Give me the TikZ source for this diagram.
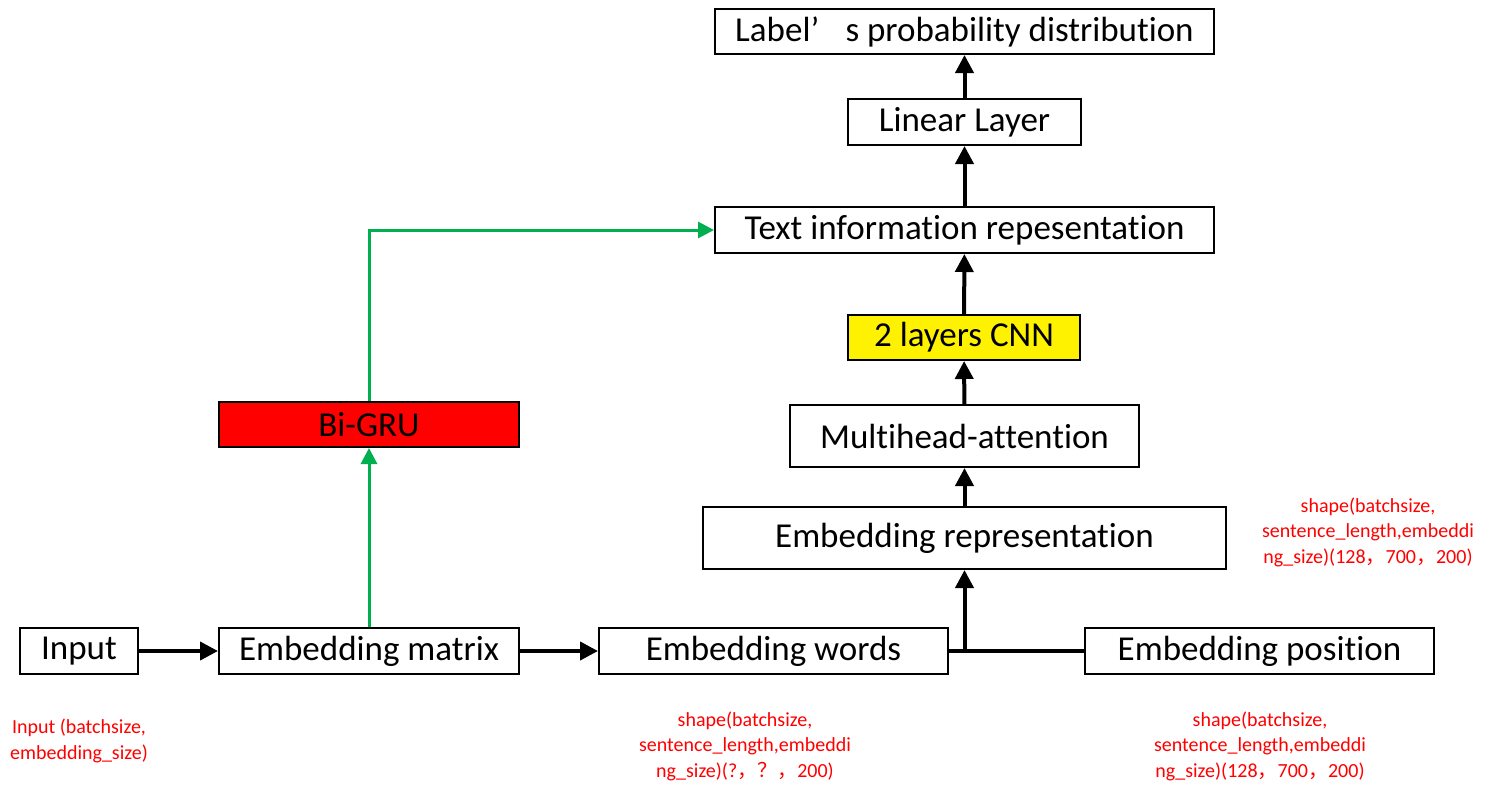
\documentclass[tikz,border=0pt]{standalone}
\usepackage{fontspec}
\setmainfont{Carlito}[Ligatures=NoCommon]
\newfontfamily\cjk{Noto Sans CJK SC}
\usetikzlibrary{arrows.meta}
\begin{document}
\begin{tikzpicture}[x=0.5pt,y=-0.5pt,
	box/.style={draw,line width=1pt,inner sep=0pt,font=\fontsize{17.5}{20}\selectfont},
	note/.style={text=red,align=center,inner sep=0pt,font=\fontsize{10}{12.8}\selectfont},
	flow/.style={line width=2pt,-{Triangle[length=9pt,width=9pt]}},
	gflow/.style={line width=1.5pt,-{Triangle[length=8pt,width=8pt]},draw={rgb,255:red,0;green,176;blue,80},color={rgb,255:red,0;green,176;blue,80}}]
	\useasboundingbox (0,0) rectangle (1488,794);
	% boxes
	\node[box,minimum width=249.5pt,minimum height=22.5pt] (prob) at (964.5,31.5) {Label’\hspace{0.75em}s probability distribution};
	\node[box,minimum width=116.5pt,minimum height=23pt] (linear) at (964.5,122) {Linear Layer};
	\node[box,minimum width=249.5pt,minimum height=23pt] (text) at (964.5,230) {Text information repesentation};
	\node[box,fill=yellow,minimum width=116pt,minimum height=22.5pt] (cnn) at (964,337.5) {2 layers CNN};
	\node[box,minimum width=174.5pt,minimum height=31pt] (mha) at (964.5,436) {Multihead-attention};
	\node[box,minimum width=261.5pt,minimum height=31pt] (rep) at (964.5,538) {Embedding representation};
	\node[box,fill=red,minimum width=150pt,minimum height=22.5pt] (gru) at (369,424.5) {Bi-GRU};
	\node[box,minimum width=59pt,minimum height=23pt] (input) at (79,651) {Input};
	\node[box,minimum width=150pt,minimum height=23pt] (matrix) at (369,651) {Embedding matrix};
	\node[box,minimum width=174.5pt,minimum height=23pt] (words) at (773.5,651) {Embedding words};
	\node[box,minimum width=174.5pt,minimum height=23pt] (pos) at (1259.5,651) {Embedding position};
	\coordinate (join) at (964.5,651);
	% black arrows
	\draw[flow] (input) -- (matrix);
	\draw[flow] (matrix) -- (words);
	\draw[line width=2pt] (words) -- (pos);
	\draw[flow] (join) -- (rep);
	\draw[flow] (rep) -- (mha);
	\draw[flow] (mha) -- (cnn);
	\draw[flow] (cnn) -- (text);
	\draw[flow] (text) -- (linear);
	\draw[flow] (linear) -- (prob);
	% green arrows
	\draw[gflow] (matrix) -- (gru);
	\draw[gflow] (gru.north) |- (text.west);
	% notes
	\node[note] (n1) at (79,741) {Input (batchsize,\\embedding\_size)};
	\node[note] (n2) at (745,746) {shape(batchsize,\\sentence\_length,embeddi\\ng\_size)(?{\cjk ，？，}200)};
	\node[note] (n3) at (1260,746) {shape(batchsize,\\sentence\_length,embeddi\\ng\_size)(128{\cjk ，}700{\cjk ，}200)};
	\node[note] (n4) at (1368,532) {shape(batchsize,\\sentence\_length,embeddi\\ng\_size)(128{\cjk ，}700{\cjk ，}200)};
\end{tikzpicture}
\end{document}
